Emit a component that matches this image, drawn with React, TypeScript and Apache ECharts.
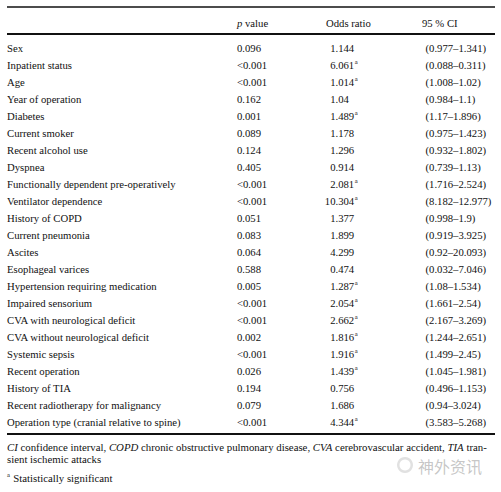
import React, { useEffect, useRef } from "react";
import * as echarts from "echarts";

// ---------- data ----------
const variables = [
  "Sex",
  "Inpatient status",
  "Age",
  "Year of operation",
  "Diabetes",
  "Current smoker",
  "Recent alcohol use",
  "Dyspnea",
  "Functionally dependent pre-operatively",
  "Ventilator dependence",
  "History of COPD",
  "Current pneumonia",
  "Ascites",
  "Esophageal varices",
  "Hypertension requiring medication",
  "Impaired sensorium",
  "CVA with neurological deficit",
  "CVA without neurological deficit",
  "Systemic sepsis",
  "Recent operation",
  "History of TIA",
  "Recent radiotherapy for malignancy",
  "Operation type (cranial relative to spine)",
];
const pValues = [
  "0.096", "<0.001", "<0.001", "0.162", "0.001", "0.089", "0.124", "0.405",
  "<0.001", "<0.001", "0.051", "0.083", "0.064", "0.588", "0.005", "<0.001",
  "<0.001", "0.002", "<0.001", "0.026", "0.194", "0.079", "<0.001",
];
const oddsRatios = [
  "1.144", "6.061", "1.014", "1.04", "1.489", "1.178", "1.296", "0.914",
  "2.081", "10.304", "1.377", "1.899", "4.299", "0.474", "1.287", "2.054",
  "2.662", "1.816", "1.916", "1.439", "0.756", "1.686", "4.344",
];
const significant = [
  false, true, true, false, true, false, false, false,
  true, true, false, false, false, false, true, true,
  true, true, true, true, false, false, true,
];
const ciLower = [
  "0.977", "0.088", "1.008", "0.984", "1.17", "0.975", "0.932", "0.739",
  "1.716", "8.182", "0.998", "0.919", "0.92", "0.032", "1.08", "1.661",
  "2.167", "1.244", "1.499", "1.045", "0.496", "0.94", "3.583",
];
const ciUpper = [
  "1.341", "0.311", "1.02", "1.1", "1.896", "1.423", "1.802", "1.13",
  "2.524", "12.977", "1.9", "3.925", "20.093", "7.046", "1.534", "2.54",
  "3.269", "2.651", "2.45", "1.981", "1.153", "3.024", "5.268",
];
const headers = ["p value", "Odds ratio", "95 % CI"];
const footnoteSegments: [string, boolean][] = [
  ["CI", true],
  [" confidence interval, ", false],
  ["COPD", true],
  [" chronic obstructive pulmonary disease, ", false],
  ["CVA", true],
  [" cerebrovascular accident, ", false],
  ["TIA", true],
  [" tran-", false],
];
const footnoteLine2 = "sient ischemic attacks";
const footnoteSig = " Statistically significant";
const watermark = "神外资讯";

// ---------- layout / style ----------
const FAMILY = "'Liberation Serif', 'Times New Roman', Times, serif";
const FS = 10.7;
const SUP_FS = 6.6;
const INK = "#111111";
const X_LABEL = 7;
const X_P = 237;
const X_DEC = 335.5;
const X_CI = 425.5;
const HEADER_X = [237, 326, 422];

let measureCtx: CanvasRenderingContext2D | null = null;
function measure(text: string, size: number, italic = false): number {
  if (!measureCtx) measureCtx = document.createElement("canvas").getContext("2d");
  if (!measureCtx) return text.length * size * 0.45;
  measureCtx.font = `${italic ? "italic " : ""}${size}px ${FAMILY}`;
  return measureCtx.measureText(text).width;
}

function textEl(x: number, y: number, text: string, align: string, size = FS, italic = false) {
  return {
    type: "text",
    x,
    y,
    silent: true,
    style: {
      text,
      fill: INK,
      fontSize: size,
      fontFamily: FAMILY,
      fontStyle: italic ? "italic" : "normal",
      align,
      verticalAlign: "middle",
      textAlign: align,
      textVerticalAlign: "middle",
    },
  };
}

export default function App() {
  const ref = useRef<HTMLDivElement>(null);

  useEffect(() => {
    document.body.style.margin = "0";
    const chart = echarts.init(ref.current!, null, { renderer: "svg" });

    // footnote font size fitted to the text block width (x 7 → 487)
    const base = 10;
    const w = footnoteSegments.reduce((s, [t, it]) => s + measure(t, base, it), 0);
    const FN = Math.max(9, Math.min(11, (base * 480) / w));
    const richFont = (italic: boolean) => ({
      fontSize: FN,
      fontFamily: FAMILY,
      fontStyle: italic ? "italic" : "normal",
      fill: INK,
    });
    const fnText = footnoteSegments
      .map(([t, it]) => `{${it ? "i" : "n"}|${t}}`)
      .join("");

    const renderItem = (params: any, api: any) => {
      const i = params.dataIndex;
      const row = api.value(1);
      const y = api.coord([0, row])[1];
      const children: any[] = [];
      children.push(textEl(X_LABEL, y, variables[i], "left"));
      children.push(textEl(X_P, y, pValues[i], "left"));
      const or = oddsRatios[i];
      const dot = or.indexOf(".");
      const intPart = or.slice(0, dot);
      const fracPart = or.slice(dot);
      children.push(textEl(X_DEC, y, intPart, "right"));
      children.push(textEl(X_DEC, y, fracPart, "left"));
      if (significant[i]) {
        const fw = measure(fracPart, FS);
        children.push(textEl(X_DEC + fw + 0.6, y - 3.4, "a", "left", SUP_FS));
      }
      children.push(textEl(X_CI, y, `(${ciLower[i]}–${ciUpper[i]})`, "left"));
      return { type: "group", children };
    };

    const option: any = {
      animation: false,
      backgroundColor: "#ffffff",
      grid: { left: 0, right: 0, top: 39.8, bottom: 61.2, containLabel: false },
      xAxis: { type: "value", min: 0, max: 501, show: false },
      yAxis: {
        type: "category",
        data: variables,
        inverse: true,
        show: false,
        boundaryGap: true,
      },
      series: [
        {
          type: "custom",
          clip: false,
          silent: true,
          renderItem,
          data: variables.map((_, i) => [0, i]),
          encode: { x: 0, y: 1 },
        },
      ],
      graphic: [
        // rules
        {
          type: "line",
          silent: true,
          shape: { x1: 7, y1: 7, x2: 495, y2: 7 },
          style: { stroke: INK, lineWidth: 1.6 },
        },
        {
          type: "line",
          silent: true,
          shape: { x1: 7, y1: 34, x2: 495, y2: 34 },
          style: { stroke: INK, lineWidth: 1.8 },
        },
        {
          type: "line",
          silent: true,
          shape: { x1: 7, y1: 434, x2: 495, y2: 434 },
          style: { stroke: INK, lineWidth: 1.8 },
        },
        // header
        {
          type: "text",
          silent: true,
          x: HEADER_X[0],
          y: 23,
          style: {
            text: `{i|${headers[0].slice(0, 1)}}{n|${headers[0].slice(1)}}`,
            rich: {
              i: { fontSize: FS, fontFamily: FAMILY, fontStyle: "italic", fill: INK },
              n: { fontSize: FS, fontFamily: FAMILY, fontStyle: "normal", fill: INK },
            },
            fontSize: FS,
            fontFamily: FAMILY,
            fill: INK,
            align: "left",
            verticalAlign: "middle",
            textAlign: "left",
            textVerticalAlign: "middle",
          },
        },
        textEl(HEADER_X[1], 23, headers[1], "left"),
        textEl(HEADER_X[2], 23, headers[2], "left"),
        // watermark (faint, beneath the footnotes)
        {
          type: "ring",
          silent: true,
          shape: { cx: 405, cy: 465, r: 8, r0: 5.5 },
          style: { fill: "rgba(170,170,170,0.35)" },
        },
        {
          type: "text",
          silent: true,
          x: 418,
          y: 466,
          style: {
            text: watermark,
            fill: "rgba(150,150,150,0.55)",
            fontSize: 16,
            fontFamily: "'Noto Sans CJK SC', sans-serif",
            align: "left",
            verticalAlign: "middle",
            textAlign: "left",
            textVerticalAlign: "middle",
          },
        },
        // footnotes
        {
          type: "text",
          silent: true,
          x: 7,
          y: 447,
          style: {
            text: fnText,
            rich: { i: richFont(true), n: richFont(false) },
            fontSize: FN,
            fontFamily: FAMILY,
            fill: INK,
            align: "left",
            verticalAlign: "middle",
            textAlign: "left",
            textVerticalAlign: "middle",
          },
        },
        textEl(7, 459, footnoteLine2, "left", FN),
        textEl(7, 474.5, "a", "left", SUP_FS),
        textEl(10.5, 477.5, footnoteSig, "left", FN),
      ],
    };

    chart.setOption(option);
    return () => chart.dispose();
  }, []);

  return <div ref={ref} style={{ width: 501, height: 492, background: "#fff" }} />;
}
